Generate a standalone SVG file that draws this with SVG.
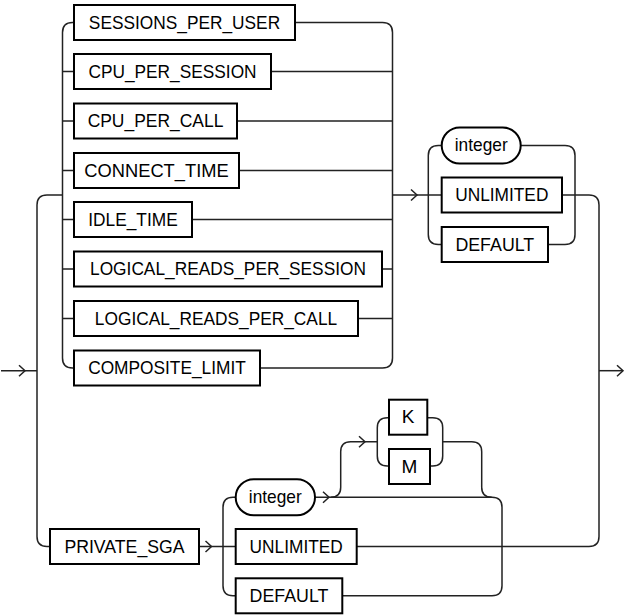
<svg xmlns="http://www.w3.org/2000/svg" width="627" height="615" viewBox="0 0 627 615">
<style>
.bg{fill:#fff}
.ln{fill:none;stroke:#222;stroke-width:1.5}
.bx{fill:#fff;stroke:#000;stroke-width:2}
.tx{font-family:"Liberation Sans",Arial,sans-serif;font-size:19px;fill:#000;text-anchor:middle}
</style>
<defs>
<path id="arr" d="M-6,-5.5 L0,0 L-6,5.5" fill="none" stroke="#222" stroke-width="1.5"/>
</defs>
<rect class="bg" x="0" y="0" width="627" height="615"/>
<g id="connectors">
<path class="ln" d="M1,370.7 H37"/>
<path class="ln" d="M62.5,195 H47 Q37,195 37,205 V536.5 Q37,546.5 47,546.5 H50"/>
<path class="ln" d="M74,22.5 H72.5 Q62.5,22.5 62.5,32.5 V358 Q62.5,368 72.5,368 H74"/>
<path class="ln" d="M62.5,71.5 H74 M62.5,121 H74 M62.5,170.5 H74 M62.5,219.5 H74 M62.5,269 H74 M62.5,318.5 H74"/>
<path class="ln" d="M295,22.5 H382.5 Q392.5,22.5 392.5,32.5 V358 Q392.5,368 382.5,368 H260"/>
<path class="ln" d="M271,71.5 H392.5 M237,121 H392.5 M239,170.5 H392.5 M192,219.5 H392.5 M382,269 H392.5 M358,318.5 H392.5"/>
<path class="ln" d="M392.5,195 H441.7"/>
<path class="ln" d="M441.7,145.5 H438.3 Q428.3,145.5 428.3,155.5 V234.5 Q428.3,244.5 438.3,244.5 H441.7"/>
<path class="ln" d="M520.7,145.5 H565 Q575,145.5 575,155.5 V234.5 Q575,244.5 565,244.5 H548"/>
<path class="ln" d="M562,195 H589 Q599,195 599,205 V536.5 Q599,546.5 589,546.5 H356.7"/>
<path class="ln" d="M599,370.7 H623"/>
<path class="ln" d="M199,546.5 H235.7"/>
<path class="ln" d="M235.7,497.3 H233 Q223,497.3 223,507.3 V585.7 Q223,595.7 233,595.7 H235.7"/>
<path class="ln" d="M315,497.3 H492 Q502,497.3 502,507.3 V585.7 Q502,595.7 492,595.7 H342.3"/>
<path class="ln" d="M330.7,497.3 Q340.7,497.3 340.7,487.3 V451.7 Q340.7,441.7 350.7,441.7 H377.3"/>
<path class="ln" d="M389,417.7 H387.3 Q377.3,417.7 377.3,427.7 V456 Q377.3,466 387.3,466 H389"/>
<path class="ln" d="M427.3,417.7 H432.7 Q442.7,417.7 442.7,427.7 V456 Q442.7,466 432.7,466 H430"/>
<path class="ln" d="M442.7,441.7 H471.7 Q481.7,441.7 481.7,451.7 V487.3 Q481.7,497.3 491.7,497.3"/>
<use href="#arr" x="25" y="370.7"/>
<use href="#arr" x="417" y="195"/>
<use href="#arr" x="623" y="370.7"/>
<use href="#arr" x="211.5" y="546.5"/>
<use href="#arr" x="329" y="497.3"/>
<use href="#arr" x="365" y="441.7"/>
</g>
<g id="n_sessions_per_user"><rect class="bx" x="74" y="5" width="221" height="35"/><text class="tx" x="184.5" y="28.5" textLength="191.3" lengthAdjust="spacingAndGlyphs">SESSIONS_PER_USER</text></g>
<g id="n_cpu_per_session"><rect class="bx" x="74" y="54" width="197" height="35"/><text class="tx" x="172.5" y="77.5" textLength="168.2" lengthAdjust="spacingAndGlyphs">CPU_PER_SESSION</text></g>
<g id="n_cpu_per_call"><rect class="bx" x="74" y="103.5" width="163" height="35"/><text class="tx" x="155.5" y="127" textLength="135.7" lengthAdjust="spacingAndGlyphs">CPU_PER_CALL</text></g>
<g id="n_connect_time"><rect class="bx" x="74" y="153" width="165" height="35"/><text class="tx" x="156.5" y="176.5" textLength="144.4" lengthAdjust="spacingAndGlyphs">CONNECT_TIME</text></g>
<g id="n_idle_time"><rect class="bx" x="74" y="202" width="118" height="35"/><text class="tx" x="133" y="225.5" textLength="89.4" lengthAdjust="spacingAndGlyphs">IDLE_TIME</text></g>
<g id="n_logical_reads_per_session"><rect class="bx" x="74" y="251.5" width="308" height="35"/><text class="tx" x="228" y="275" textLength="275.9" lengthAdjust="spacingAndGlyphs">LOGICAL_READS_PER_SESSION</text></g>
<g id="n_logical_reads_per_call"><rect class="bx" x="74" y="301" width="284" height="35"/><text class="tx" x="216" y="324.5" textLength="242.3" lengthAdjust="spacingAndGlyphs">LOGICAL_READS_PER_CALL</text></g>
<g id="n_composite_limit"><rect class="bx" x="74" y="350.5" width="186" height="35"/><text class="tx" x="167" y="374" textLength="157.7" lengthAdjust="spacingAndGlyphs">COMPOSITE_LIMIT</text></g>
<g id="n_integer_1"><rect class="bx" x="441.7" y="127.5" width="79" height="36" rx="18" ry="18"/><text class="tx" x="481.2" y="151" textLength="52.9" lengthAdjust="spacingAndGlyphs">integer</text></g>
<g id="n_unlimited_1"><rect class="bx" x="441.7" y="177.5" width="120.3" height="35"/><text class="tx" x="501.8" y="201" textLength="93.2" lengthAdjust="spacingAndGlyphs">UNLIMITED</text></g>
<g id="n_default_1"><rect class="bx" x="441.7" y="227" width="106.3" height="35"/><text class="tx" x="494.8" y="250.5" textLength="78.8" lengthAdjust="spacingAndGlyphs">DEFAULT</text></g>
<g id="n_private_sga"><rect class="bx" x="50" y="529" width="149" height="35"/><text class="tx" x="124.5" y="552.5" textLength="120.2" lengthAdjust="spacingAndGlyphs">PRIVATE_SGA</text></g>
<g id="n_integer_2"><rect class="bx" x="235.7" y="479.3" width="79.3" height="36" rx="18" ry="18"/><text class="tx" x="275.3" y="503" textLength="52.9" lengthAdjust="spacingAndGlyphs">integer</text></g>
<g id="n_unlimited_2"><rect class="bx" x="235.7" y="529" width="121" height="35"/><text class="tx" x="296.2" y="552.5" textLength="93.2" lengthAdjust="spacingAndGlyphs">UNLIMITED</text></g>
<g id="n_default_2"><rect class="bx" x="235.7" y="578.3" width="106.6" height="35"/><text class="tx" x="289" y="601.8" textLength="78.8" lengthAdjust="spacingAndGlyphs">DEFAULT</text></g>
<g id="n_k"><rect class="bx" x="389" y="399.7" width="38.3" height="35"/><text class="tx" x="408.2" y="423.2">K</text></g>
<g id="n_m"><rect class="bx" x="389" y="449" width="41" height="35"/><text class="tx" x="409.5" y="472.5">M</text></g>
</svg>
